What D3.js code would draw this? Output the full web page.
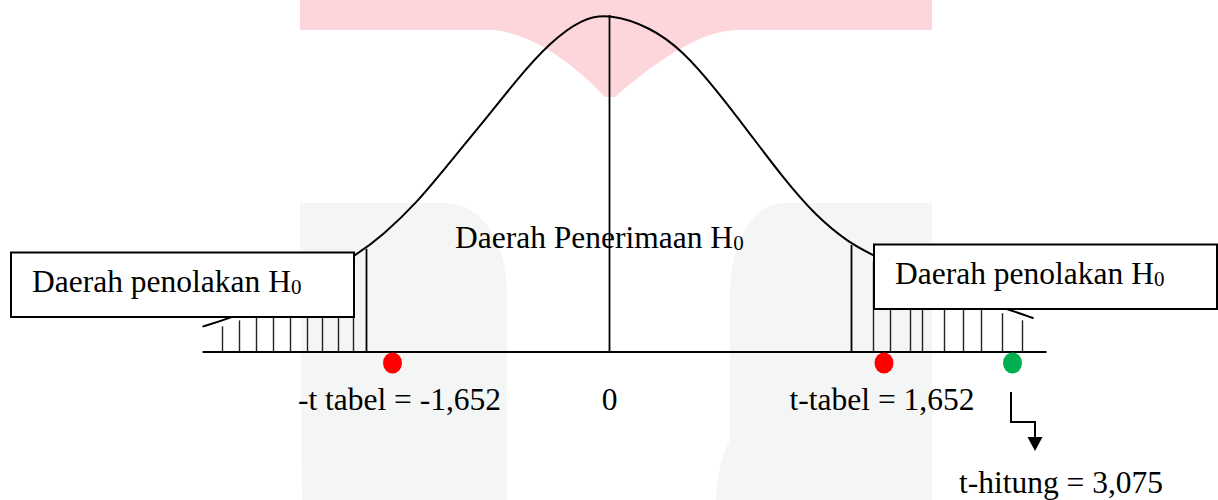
<!DOCTYPE html>
<html>
<head>
<meta charset="utf-8">
<script src="https://cdn.jsdelivr.net/npm/d3@7"></script>
<style>
  html, body { margin: 0; padding: 0; background: #fff; }
  svg { display: block; }
  text { font-family: "Liberation Serif", "Times New Roman", serif; fill: #000; }
</style>
</head>
<body>
<div id="chart"><svg></svg></div>
<script>
// curve (t position, density)
const curveT = [-4.07, -3.80, -3.40, -3.00, -2.50, -2.27, -1.93, -1.60, -1.27, -0.93, -0.60, -0.27, 0,
  0.40, 0.73, 1.07, 1.40, 1.73, 2.07, 2.40, 2.60, 3.00, 3.50, 3.93, 4.24]
const curveD = [0.030, 0.040, 0.058, 0.082, 0.117, 0.138, 0.176, 0.224, 0.271, 0.322, 0.366, 0.395, 0.400,
  0.385, 0.357, 0.310, 0.259, 0.207, 0.160, 0.129, 0.117, 0.092, 0.068, 0.053, 0.040]

const axisExtent = [-4.07, 4.37]
const boundaryT = [-2.43, 2.42]
const hatchLeft = [-3.87, -3.70, -3.53, -3.36, -3.19, -3.02, -2.87, -2.71, -2.56]
const hatchRight = [2.64, 2.81, 3.01, 3.13, 3.35, 3.54, 3.72, 3.93, 4.13]

// critical values and where they sit on the sketch
const markerNames = ['-t tabel', 't-tabel', 't-hitung']
const markerValues = ['-1,652', '1,652', '3,075']
const markerPos = [-2.17, 2.745, 4.03]
const markerColors = ['#ff0000', '#ff0000', '#00b050']
const labelPos = [-2.10, 0, 2.725, 4.515]
const labelTexts = ['-t tabel = -1,652', '0', 't-tabel = 1,652', 't-hitung = 3,075']

const width = 1218, height = 500

const svg = d3.select('#chart').select('svg')
  .attr('width', width)
  .attr('height', height)

const x = d3.scaleLinear().domain([-4, 4]).range([209.5, 1009.5])
const y = d3.scaleLinear().domain([0, 0.4]).range([352, 14])
const densityAt = d3.scaleLinear().domain(curveT).range(curveD)

// faint watermark behind the sketch
svg.append('path')
  .attr('d', 'M300,0H932V30H735C700,32 660,58 615,97H605C570,60 530,33 493,30H300Z')
  .attr('fill', '#fdd6db')
svg.append('path')
  .attr('d', 'M300,203H447C482,205 505,240 507,290V500H302Z')
  .attr('fill', '#f4f5f5')
svg.append('path')
  .attr('d', 'M782,203H932V500H716C717,475 722,455 730,440V290C732,240 752,205 782,203Z')
  .attr('fill', '#f4f5f5')

// bell curve
const line = d3.line()
  .x((d, i) => x(curveT[i]))
  .y(d => y(d))
  .curve(d3.curveBasis)

svg.append('path')
  .datum(curveD)
  .attr('d', line)
  .attr('fill', 'none')
  .attr('stroke', '#000')
  .attr('stroke-width', 2)

// centre line
svg.append('line')
  .attr('x1', x(0)).attr('x2', x(0))
  .attr('y1', y(0)).attr('y2', y(d3.max(curveD)) + 1)
  .attr('stroke', '#000')
  .attr('stroke-width', 1.8)

// region boundaries
svg.selectAll('.bound')
  .data(boundaryT)
  .enter()
  .append('line')
  .attr('class', 'bound')
  .attr('x1', d => x(d)).attr('x2', d => x(d))
  .attr('y1', y(0))
  .attr('y2', d => y(densityAt(d)) + 1)
  .attr('stroke', '#000')
  .attr('stroke-width', 1.8)

// hatching in the rejection regions
svg.selectAll('.hatch')
  .data(hatchLeft.concat(hatchRight))
  .enter()
  .append('line')
  .attr('class', 'hatch')
  .attr('x1', d => x(d)).attr('x2', d => x(d))
  .attr('y1', y(0))
  .attr('y2', d => y(densityAt(d)) + 6)
  .attr('stroke', '#222')
  .attr('stroke-width', 1.4)

// horizontal axis
svg.append('line')
  .attr('x1', x(axisExtent[0])).attr('x2', x(axisExtent[1]))
  .attr('y1', y(0)).attr('y2', y(0))
  .attr('stroke', '#000')
  .attr('stroke-width', 2.2)

// boxes with region names
const boxes = [
  {x: 11, y: 252.5, w: 343, h: 64.5, tx: 32, ty: 292, label: 'Daerah penolakan H'},
  {x: 874, y: 244.5, w: 343, h: 64.5, tx: 895, ty: 283.5, label: 'Daerah penolakan H'}
]
const bg = svg.selectAll('.box')
  .data(boxes)
  .enter()
  .append('g')
  .attr('class', 'box')

bg.append('rect')
  .attr('x', d => d.x).attr('y', d => d.y)
  .attr('width', d => d.w).attr('height', d => d.h)
  .attr('fill', '#fff')
  .attr('stroke', '#000')
  .attr('stroke-width', 2)

const bt = bg.append('text')
  .attr('x', d => d.tx).attr('y', d => d.ty)
  .attr('font-size', '31.5px')
bt.append('tspan').text(d => d.label)
bt.append('tspan').attr('font-size', '21px').attr('dy', 2).text('0')

const acc = svg.append('text')
  .attr('x', 455).attr('y', 248)
  .attr('font-size', '31.5px')
acc.append('tspan').text('Daerah Penerimaan H')
acc.append('tspan').attr('font-size', '21px').attr('dy', 2).text('0')

// markers
svg.selectAll('.dot')
  .data(markerPos)
  .enter()
  .append('ellipse')
  .attr('class', 'dot')
  .attr('cx', d => x(d))
  .attr('cy', 363)
  .attr('rx', 9.5)
  .attr('ry', 10.5)
  .attr('fill', (d, i) => markerColors[i])

// value labels
svg.selectAll('.lab')
  .data(labelTexts)
  .enter()
  .append('text')
  .attr('class', 'lab')
  .attr('x', (d, i) => x(labelPos[i]))
  .attr('y', (d, i) => i === 3 ? 493 : 410)
  .attr('text-anchor', 'middle')
  .attr('font-size', '31.5px')
  .text(d => d)

// elbow arrow from t-hitung dot down to its label
const ax = x(markerPos[2]) - 1.5
svg.append('path')
  .attr('d', `M${ax},392V422H${ax + 24}V438`)
  .attr('fill', 'none')
  .attr('stroke', '#000')
  .attr('stroke-width', 2)
svg.append('path')
  .attr('d', `M${ax + 16.5},437H${ax + 31.5}L${ax + 24},451Z`)
  .attr('fill', '#000')
</script>
</body>
</html>
